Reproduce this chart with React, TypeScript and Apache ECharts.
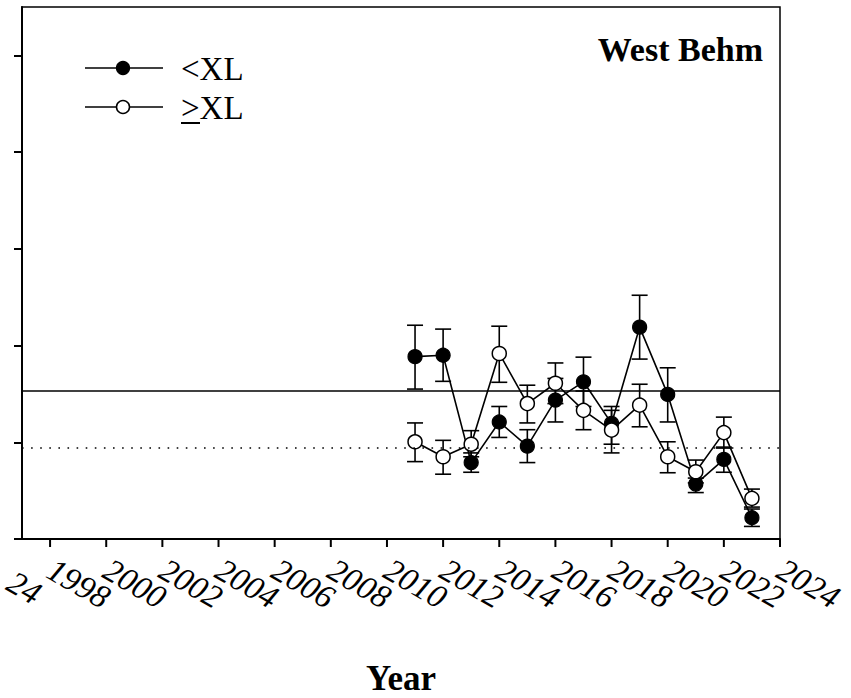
import React, { useEffect, useRef } from "react";
import * as echarts from "echarts";

const years = [2011, 2012, 2013, 2014, 2015, 2016, 2017, 2018, 2019, 2020, 2021, 2022, 2023];
const smallMean = [1.885, 1.9, 0.79, 1.21, 0.96, 1.436, 1.625, 1.195, 2.19, 1.495, 0.568, 0.823, 0.22];
const smallLow = [1.55, 1.63, 0.69, 1.05, 0.79, 1.21, 1.37, 0.98, 1.86, 1.21, 0.48, 0.69, 0.13];
const smallHigh = [2.21, 2.17, 0.89, 1.37, 1.13, 1.66, 1.88, 1.37, 2.52, 1.77, 0.63, 0.95, 0.31];
const largeMean = [1.005, 0.85, 0.98, 1.918, 1.4, 1.61, 1.33, 1.126, 1.384, 0.85, 0.695, 1.1, 0.42];
const largeLow = [0.8, 0.67, 0.85, 1.62, 1.2, 1.4, 1.13, 0.89, 1.16, 0.685, 0.58, 0.94, 0.33];
const largeHigh = [1.2, 1.02, 1.12, 2.2, 1.59, 1.82, 1.53, 1.33, 1.6, 1.005, 0.816, 1.26, 0.516];
const xTicks = [1998, 2000, 2002, 2004, 2006, 2008, 2010, 2012, 2014, 2016, 2018, 2020, 2022, 2024];
const yTicks = [0, 1, 2, 3, 4, 5];
const refSolid = 1.532;
const refDotted = 0.937;
const seriesNames = ["<XL", ">XL"];
const panelTitle = "West Behm";
const xTitle = "Year";
const neighbourLabelTail = "24";

const FONT = "Liberation Serif";
const LABEL_SIZE = 33;
const LABEL_MARGIN = 28;
const LABEL_ROT = -30;

// labels split over two overlaid axes so that neighbouring rotated labels never get auto-hidden
const xLabelsA = xTicks.filter((_, i) => i % 2 === 0);
const xLabelsB = xTicks.filter((_, i) => i % 2 === 1);

function errorSeries(low: number[], high: number[]) {
  return {
    type: "custom",
    z: 1,
    silent: true,
    data: years.map((y, i) => [y, low[i], high[i]]),
    renderItem: (params: any, api: any) => {
      const x = api.value(0);
      const lo = api.coord([x, api.value(1)]);
      const hi = api.coord([x, api.value(2)]);
      const half = 8;
      const st = { stroke: "#000", lineWidth: 1.6 };
      return {
        type: "group",
        children: [
          { type: "line", shape: { x1: lo[0], y1: lo[1], x2: hi[0], y2: hi[1] }, style: st },
          { type: "line", shape: { x1: lo[0] - half, y1: lo[1], x2: lo[0] + half, y2: lo[1] }, style: st },
          { type: "line", shape: { x1: hi[0] - half, y1: hi[1], x2: hi[0] + half, y2: hi[1] }, style: st },
        ],
      };
    },
  };
}

// x-axis tick marks drawn through the axis scale (outward, below the axis line)
const xTickSeries = {
  type: "custom",
  z: 5,
  silent: true,
  clip: false,
  data: xTicks.map((t) => [t, 0]),
  renderItem: (params: any, api: any) => {
    const p = api.coord([api.value(0), 0]);
    return {
      type: "line",
      shape: { x1: p[0], y1: p[1], x2: p[0], y2: p[1] + 8 },
      style: { stroke: "#000", lineWidth: 2 },
    };
  },
};

function labelAxis(values: number[], main: boolean) {
  return {
    type: "value",
    gridIndex: 0,
    position: "bottom",
    offset: 0,
    min: 1997,
    max: 2024,
    name: main ? xTitle : "",
    nameLocation: "middle",
    nameGap: 122,
    nameTextStyle: { fontFamily: FONT, fontWeight: "bold", fontSize: 35, color: "#000" },
    axisLine: { show: main, lineStyle: { color: "#000", width: 2 } },
    axisTick: { show: false },
    axisLabel: {
      show: true,
      customValues: values,
      hideOverlap: false,
      rotate: LABEL_ROT,
      margin: LABEL_MARGIN,
      fontFamily: FONT,
      fontStyle: "italic",
      fontSize: LABEL_SIZE,
      color: "#000",
      formatter: (v: number) => String(v),
    },
    splitLine: { show: false },
  };
}

export default function App() {
  const ref = useRef<HTMLDivElement>(null);
  useEffect(() => {
    if (!ref.current) return;
    const chart = echarts.init(ref.current, null, { renderer: "svg" });
    const rot = (LABEL_ROT * Math.PI) / 180;
    const tailShift = LABEL_SIZE; // width of the two digits "20"
    chart.setOption({
      animation: false,
      backgroundColor: "#fff",
      textStyle: { fontFamily: FONT },
      grid: {
        left: 22,
        right: 71,
        top: 7,
        bottom: 159,
        show: true,
        borderColor: "#000",
        borderWidth: 1.5,
        containLabel: false,
        outerBoundsMode: "none",
      },
      xAxis: [labelAxis(xLabelsA, true), labelAxis(xLabelsB, false)],
      yAxis: {
        type: "value",
        min: 0,
        max: 5.5,
        axisLine: { show: true, lineStyle: { color: "#000", width: 2 } },
        axisTick: { show: true, customValues: yTicks, length: 8, inside: false, lineStyle: { color: "#000", width: 2 } },
        axisLabel: { show: false },
        splitLine: { show: false },
      },
      series: [
        errorSeries(smallLow, smallHigh),
        errorSeries(largeLow, largeHigh),
        {
          type: "line",
          name: seriesNames[0],
          z: 3,
          data: years.map((y, i) => [y, smallMean[i]]),
          symbol: "circle",
          symbolSize: 14,
          itemStyle: { color: "#000", borderColor: "#000", borderWidth: 1.2 },
          lineStyle: { color: "#000", width: 1.6 },
          markLine: {
            silent: true,
            symbol: "none",
            label: { show: false },
            data: [
              { yAxis: refSolid, lineStyle: { color: "#000", width: 1.5, type: "solid" } },
              { yAxis: refDotted, lineStyle: { color: "#000", width: 1.6, type: [1.6, 7.5] } },
            ],
          },
        },
        {
          type: "line",
          name: seriesNames[1],
          z: 4,
          data: years.map((y, i) => [y, largeMean[i]]),
          symbol: "circle",
          symbolSize: 14,
          itemStyle: { color: "#fff", borderColor: "#000", borderWidth: 1.5 },
          lineStyle: { color: "#000", width: 1.6 },
        },
        xTickSeries,
      ],
      graphic: [
        { type: "line", shape: { x1: 85, y1: 68, x2: 163, y2: 68 }, style: { stroke: "#000", lineWidth: 1.6 } },
        { type: "circle", shape: { cx: 123, cy: 68, r: 6.5 }, style: { fill: "#000", stroke: "#000", lineWidth: 1.2 } },
        { type: "text", x: 181, y: 69, style: { text: seriesNames[0], fontFamily: FONT, fontSize: 33, fill: "#000", textVerticalAlign: "middle" } },
        { type: "line", shape: { x1: 85, y1: 107, x2: 163, y2: 107 }, style: { stroke: "#000", lineWidth: 1.6 } },
        { type: "circle", shape: { cx: 123, cy: 107, r: 6.5 }, style: { fill: "#fff", stroke: "#000", lineWidth: 1.5 } },
        { type: "text", x: 181, y: 108, style: { text: seriesNames[1], fontFamily: FONT, fontSize: 33, fill: "#000", textVerticalAlign: "middle" } },
        { type: "line", shape: { x1: 181, y1: 123, x2: 200, y2: 123 }, style: { stroke: "#000", lineWidth: 2 } },
        { type: "text", x: 763, y: 49, style: { text: panelTitle, fontFamily: FONT, fontWeight: "bold", fontSize: 34, fill: "#000", textAlign: "right", textVerticalAlign: "middle" } },
        {
          type: "text",
          x: 10,
          y: 539 + LABEL_MARGIN + tailShift * Math.sin(-rot) - 4,
          rotation: rot,
          style: { text: neighbourLabelTail, fontFamily: FONT, fontStyle: "italic", fontSize: LABEL_SIZE, fill: "#000", textAlign: "left", textVerticalAlign: "middle" },
        },
      ],
    });
    return () => chart.dispose();
  }, []);
  return <div ref={ref} style={{ position: "absolute", left: 0, top: 0, width: 851, height: 698 }} />;
}
